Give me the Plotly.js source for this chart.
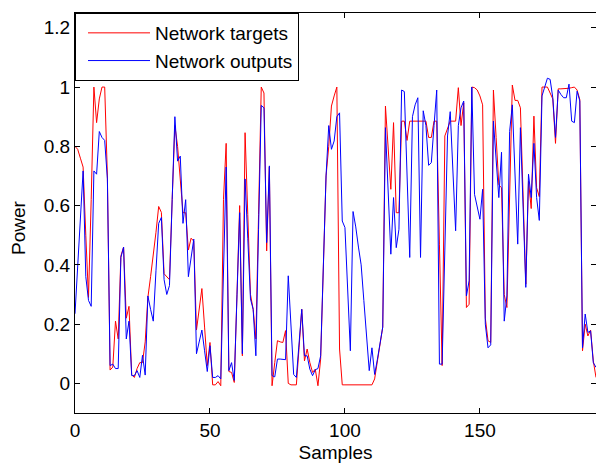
<!DOCTYPE html>
<html>
<head>
<meta charset="utf-8">
<script src="https://cdn.plot.ly/plotly-3.0.1.min.js"></script>
<style>html,body{margin:0;padding:0;background:#fff;}#chart{width:596px;height:463px;}</style>
</head>
<body>
<div id="chart"></div>
<script>
// Network targets (red)
const targets = [
  0.80, 0.79, 0.76, 0.73, 0.50, 0.29, 0.62, 1.00, 0.88, 0.96,
  1.00, 1.00, 0.70, 0.045, 0.055, 0.21, 0.15, 0.43, 0.46, 0.22,
  0.26, 0.03, 0.02, 0.05, 0.07, 0.07, 0.14, 0.29, 0.36, 0.43,
  0.51, 0.597, 0.577, 0.37, 0.36, 0.35, 0.62, 0.87, 0.80, 0.69,
  0.576, 0.576, 0.45, 0.49, 0.48, 0.18, 0.25, 0.32, 0.19, 0.06,
  0.138, -0.005, -0.005, 0.006, -0.008, 0.62, 0.81, 0.04, 0.037, 0.003,
  0.30, 0.60, 0.093, 0.846, 0.57, 0.30, 0.25, 0.15, 0.57, 1.00,
  0.98, 0.447, 0.73, -0.008, 0.07, 0.144, 0.14, 0.138, 0.178, 0.0,
  -0.005, -0.005, -0.005, 0.12, 0.25, 0.076, 0.116, 0.07, 0.037, 0.048,
  -0.008, 0.082, 0.39, 0.70, 0.80, 0.936, 0.97, 1.00, 0.116, -0.005,
  -0.005, -0.005, -0.005, -0.005, -0.005, -0.005, -0.005, -0.005, -0.005, -0.005,
  -0.005, 0.015, 0.07, 0.13, 0.19, 0.936, 0.80, 0.655, 0.88, 0.576,
  0.576, 0.885, 0.885, 0.82, 0.885, 0.885, 0.885, 0.885, 0.885, 0.885,
  0.885, 0.83, 0.83, 0.885, 0.885, 0.47, 0.06, 0.835, 0.86, 0.885,
  0.885, 0.885, 0.998, 0.87, 0.947, 0.256, 0.267, 1.00, 0.998, 0.99,
  0.97, 0.94, 0.22, 0.144, 0.138, 0.99, 0.83, 0.67, 0.66, 0.30,
  0.256, 0.63, 1.007, 0.955, 0.955, 0.93, 0.63, 0.335, 0.683, 0.59,
  0.902, 0.66, 0.63, 1.00, 1.00, 1.00, 0.98, 0.96, 0.81, 0.994,
  0.994, 0.994, 0.994, 0.996, 0.998, 1.00, 0.99, 0.958, 0.11, 0.20,
  0.16, 0.18, 0.076, 0.02
];
// Network outputs (blue)
const outputs = [
  0.235, 0.40, 0.56, 0.717, 0.36, 0.28, 0.26, 0.717, 0.706, 0.85,
  0.83, 0.82, 0.69, 0.06, 0.065, 0.05, 0.05, 0.425, 0.46, 0.15,
  0.21, 0.026, 0.026, 0.043, 0.02, 0.095, 0.028, 0.295, 0.25, 0.21,
  0.38, 0.54, 0.56, 0.35, 0.30, 0.33, 0.62, 0.90, 0.75, 0.767,
  0.54, 0.62, 0.36, 0.42, 0.487, 0.10, 0.14, 0.18, 0.11, 0.04,
  0.127, 0.02, 0.02, 0.026, 0.015, 0.40, 0.73, 0.043, 0.07, 0.01,
  0.29, 0.576, 0.10, 0.69, 0.49, 0.285, 0.25, 0.093, 0.52, 0.938,
  0.93, 0.475, 0.734, 0.026, 0.022, 0.082, 0.082, 0.08, 0.08, 0.363,
  0.18, 0.03, 0.02, 0.13, 0.25, 0.093, 0.093, 0.048, 0.026, 0.046,
  0.05, 0.093, 0.40, 0.70, 0.87, 0.79, 0.818, 0.90, 0.913, 0.548,
  0.526, 0.32, 0.11, 0.58, 0.528, 0.46, 0.40, 0.28, 0.17, 0.043,
  0.12, 0.03, 0.08, 0.13, 0.19, 0.863, 0.65, 0.436, 0.627, 0.458,
  0.52, 0.99, 0.985, 0.70, 0.425, 0.90, 0.94, 0.964, 0.425, 0.92,
  0.87, 0.736, 0.745, 0.87, 0.99, 0.065, 0.065, 0.45, 0.835, 0.917,
  0.72, 0.515, 0.87, 0.93, 0.953, 0.295, 0.346, 1.00, 0.638, 0.59,
  0.554, 0.655, 0.20, 0.12, 0.13, 0.885, 0.75, 0.627, 0.78, 0.21,
  0.295, 0.85, 0.94, 0.70, 0.47, 0.863, 0.59, 0.324, 0.706, 0.627,
  0.81, 0.627, 0.55, 0.97, 1.00, 1.03, 1.026, 0.964, 0.83, 0.99,
  0.975, 0.964, 0.964, 1.01, 0.885, 0.88, 0.986, 0.953, 0.12, 0.234,
  0.172, 0.177, 0.07, 0.054
];
const samples = targets.map((_, i) => i);
const seriesNames = ["Network targets", "Network outputs"];
const xTicks = [0, 50, 100, 150];
const yTicks = [0, 0.2, 0.4, 0.6, 0.8, 1, 1.2];
const xLabel = "Samples";
const yLabel = "Power";

const FONT = "Liberation Sans, Arial, Helvetica, sans-serif";

const traces = [
  {x: samples, y: targets, type: "scatter", mode: "lines", name: seriesNames[0],
   line: {color: "#ff0000", width: 1}},
  {x: samples, y: outputs, type: "scatter", mode: "lines", name: seriesNames[1],
   line: {color: "#0000ff", width: 1}}
];

const axisCommon = {
  showline: true, linecolor: "#000", linewidth: 1, mirror: "ticks",
  ticks: "inside", ticklen: 5, tickwidth: 1, tickcolor: "#000",
  showgrid: false, zeroline: false,
  tickfont: {family: FONT, size: 19, color: "#000"}
};

const layout = {
  width: 596, height: 463,
  margin: {l: 75, r: 0, t: 13, b: 50, pad: 0},
  paper_bgcolor: "#fff", plot_bgcolor: "#fff",
  font: {family: FONT, size: 19, color: "#000"},
  showlegend: true,
  legend: {
    x: 0, y: 1, xanchor: "left", yanchor: "top",
    bgcolor: "#fff", bordercolor: "#000", borderwidth: 1,
    font: {family: FONT, size: 19, color: "#000"},
    itemwidth: 62, indentation: 7, tracegroupgap: 0
  },
  xaxis: Object.assign({}, axisCommon, {
    range: [0, 193], tickmode: "array", tickvals: xTicks,
    title: {text: xLabel, font: {family: FONT, size: 19, color: "#000"}, standoff: 14}
  }),
  yaxis: Object.assign({}, axisCommon, {
    range: [-0.1, 1.25], tickmode: "array", tickvals: yTicks,
    ticktext: yTicks.map(v => String(v))
  }),
  annotations: [{
    text: yLabel, textangle: -90, showarrow: false,
    xref: "paper", yref: "paper", x: 0, y: 0.5,
    xanchor: "center", yanchor: "middle", xshift: -57, yshift: -15,
    font: {family: FONT, size: 19, color: "#000"}
  }]
};

Plotly.newPlot("chart", traces, layout, {displayModeBar: false, staticPlot: true});
</script>
</body>
</html>
